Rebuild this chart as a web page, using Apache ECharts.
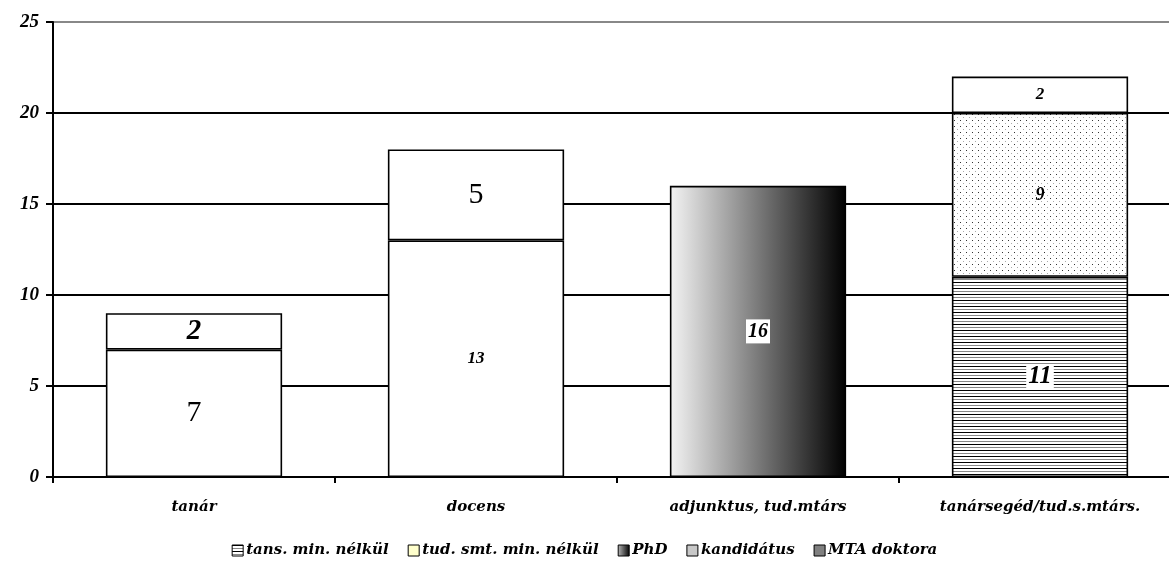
<!DOCTYPE html>
<html><head><meta charset="utf-8">
<script src="https://cdn.jsdelivr.net/npm/echarts@6/dist/echarts.min.js"></script>
<style>html,body{margin:0;padding:0;background:#fff}#c{width:1169px;height:576px}</style>
</head><body><div id="c"></div>
<script>
var categories = ['tanár', 'docens', 'adjunktus, tud.mtárs', 'tanársegéd/tud.s.mtárs.'];
var yTicks = [0, 5, 10, 15, 20, 25];
var seriesNames = ['tans. min. nélkül', 'tud. smt. min. nélkül', 'PhD', 'kandidátus', 'MTA doktora'];
var tansMin = [null, null, null, 11];
var tudSmt = [null, null, null, 9];
var phd = [null, null, 16, 2];
var kandidatus = [7, 13, null, null];
var mtaDoktora = [2, 5, null, null];

function makeCanvas(w, h, draw) {
  var c = document.createElement('canvas'); c.width = w; c.height = h;
  var ctx = c.getContext('2d'); ctx.fillStyle = '#fff'; ctx.fillRect(0, 0, w, h); draw(ctx); return c;
}
var hLines = makeCanvas(4, 6, function (ctx) {
  ctx.fillStyle = '#000'; ctx.fillRect(0, 0, 4, 1);
  ctx.fillStyle = '#888'; ctx.fillRect(0, 3, 4, 1);
});
var dots = makeCanvas(6, 6, function (ctx) {
  ctx.fillStyle = '#333'; ctx.fillRect(0, 0, 1, 1);
  ctx.fillStyle = '#aaa'; ctx.fillRect(3, 3, 1, 1);
});
var grad = new echarts.graphic.LinearGradient(0, 0, 1, 0, [{offset: 0, color: '#f4f4f4'}, {offset: 1, color: '#000'}]);

var serif = '"Liberation Serif", "DejaVu Serif", serif';
var wide = '"DejaVu Serif", "Liberation Serif", serif';
var baseLabel = {show: true, position: 'inside', fontFamily: serif, color: '#000', fontWeight: 'bold', fontStyle: 'italic', fontSize: 17};
function lbl(o) { return Object.assign({}, baseLabel, o); }
// label style per [series][category]
var labelStyles = {
  0: {3: lbl({fontSize: 25, backgroundColor: '#fff', padding: [0, 2]})},
  1: {3: lbl({fontSize: 18})},
  2: {2: lbl({fontSize: 20, backgroundColor: '#fff', padding: [2, 2]}), 3: lbl({fontSize: 17})},
  3: {0: lbl({fontSize: 30, fontWeight: 'normal', fontStyle: 'normal'}), 1: lbl({fontSize: 17})},
  4: {0: lbl({fontSize: 29, backgroundColor: '#fff', padding: [0, 6]}), 1: lbl({fontSize: 30, fontWeight: 'normal', fontStyle: 'normal'})}
};
var values = [tansMin, tudSmt, phd, kandidatus, mtaDoktora];
var colors = [{image: hLines, repeat: 'repeat'}, {image: dots, repeat: 'repeat'}, grad, '#fff', '#fff'];
var legendColors = [{image: hLines, repeat: 'repeat'}, '#ffffcc', new echarts.graphic.LinearGradient(0, 0, 1, 0, [{offset: 0, color: '#bbb'}, {offset: 1, color: '#000'}]), '#c8c8c8', '#808080'];

var series = values.map(function (arr, si) {
  return {
    name: seriesNames[si], type: 'bar', stack: 'total', barWidth: '62.5%',
    itemStyle: {color: colors[si], borderColor: '#000', borderWidth: 1.6},
    data: arr.map(function (v, ci) {
      if (v == null) return '-';
      var d = {value: v, label: (labelStyles[si] && labelStyles[si][ci]) || lbl({})};
      if (si === 2 && ci === 3) d.itemStyle = {color: '#fff'};
      return d;
    })
  };
});

var chart = echarts.init(document.getElementById('c'));
chart.setOption({
  animation: false,
  backgroundColor: '#fff',
  grid: {left: 53, width: 1128, top: 22, bottom: 99, containLabel: false, outerBoundsMode: 'none'},
  legend: {
    bottom: 13, left: 'center', itemWidth: 11, itemHeight: 11, itemGap: 19, icon: 'rect',
    textStyle: {fontFamily: wide, fontWeight: 'bold', fontStyle: 'italic', fontSize: 15, color: '#000', padding: [0, 0, 0, -2]},
    data: seriesNames.map(function (n, i) {
      return {name: n, itemStyle: {color: legendColors[i], borderColor: '#000', borderWidth: 1}};
    })
  },
  xAxis: {
    type: 'category', data: categories,
    axisLine: {lineStyle: {color: '#000', width: 2}},
    axisTick: {show: true, length: 6, lineStyle: {color: '#000', width: 2}},
    axisLabel: {margin: 23, fontFamily: wide, fontWeight: 'bold', fontStyle: 'italic', fontSize: 15, color: '#000'}
  },
  yAxis: {
    type: 'value', min: yTicks[0], max: yTicks[yTicks.length - 1], interval: 5,
    axisLine: {show: true, lineStyle: {color: '#000', width: 2}},
    axisTick: {show: true, length: 7, lineStyle: {color: '#000', width: 2}},
    axisLabel: {margin: 14, fontFamily: serif, fontWeight: 'bold', fontStyle: 'italic', fontSize: 19, color: '#000'},
    splitLine: {lineStyle: {color: ['#000', '#000', '#000', '#000', '#000', '#888'], width: 2}}
  },
  series: series
});
</script></body></html>
